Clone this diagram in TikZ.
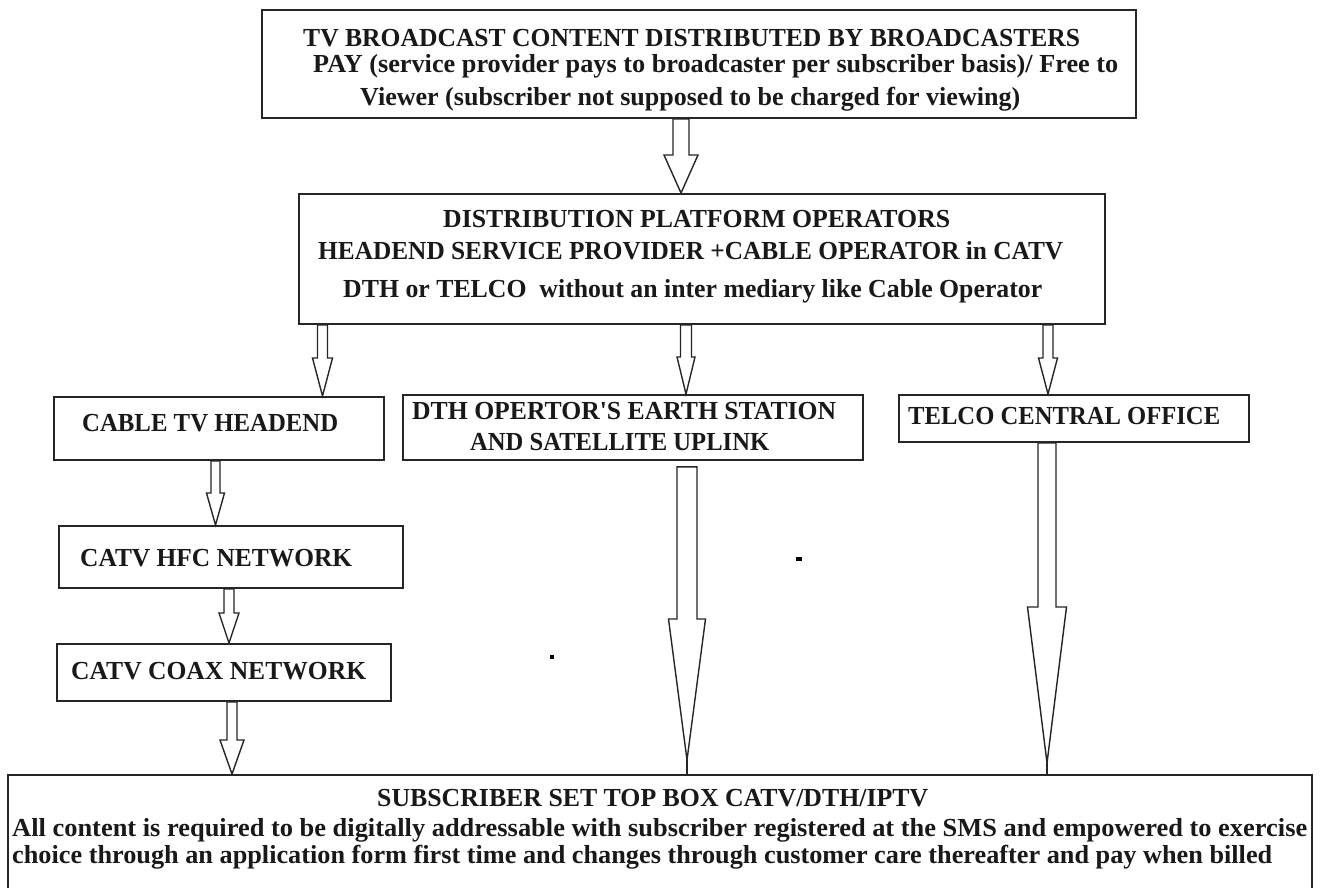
\documentclass[tikz,border=0pt]{standalone}
\usepackage{fontspec}
\setmainfont{Liberation Serif}[Ligatures=TeXOff]
\usepackage{graphicx}
\usetikzlibrary{calc}
\newcommand{\fitw}[2]{\resizebox{#1pt}{\height}{#2}}
\newcommand{\barrow}[5]{%
  \path[blk] let \p1=(#1), \p2=(#2) in
    (\x1-#3pt,\y1) -- (\x1-#3pt,\y2+#5pt) -- (\x1-#4pt,\y2+#5pt) -- (\x1,\y2)
    -- (\x1+#4pt,\y2+#5pt) -- (\x1+#3pt,\y2+#5pt) -- (\x1+#3pt,\y1) -- cycle;}
\tikzset{
  box/.style={draw=black!85, line width=1.8pt, rectangle, inner sep=0pt, anchor=north west, fill=white},
  txt/.style={inner sep=0pt, anchor=base west, font=\fontsize{26}{30}\selectfont\bfseries, text=black!90},
  blk/.style={draw=black!85, line width=1.4pt, fill=white, line join=miter},
  stem/.style={draw=black!85, line width=2pt}
}
\begin{document}
\begin{tikzpicture}[x=1pt,y=-1pt]
\useasboundingbox[fill=white] (0,0) rectangle (1327,887);
% boxes
\node[box, minimum width=874pt, minimum height=108pt] (top) at (261,9) {};
\node[box, minimum width=806pt, minimum height=130pt] (plat) at (298,193) {};
\node[box, minimum width=330pt, minimum height=63pt] (cable) at (53,396) {};
\node[box, minimum width=460pt, minimum height=65pt] (dth) at (402,394) {};
\node[box, minimum width=350pt, minimum height=47pt] (telco) at (898,394) {};
\node[box, minimum width=344pt, minimum height=62pt] (hfc) at (58,525) {};
\node[box, minimum width=334pt, minimum height=57pt] (coax) at (56,643) {};
\node[box, minimum width=1304pt, minimum height=140pt] (sub) at (7,774) {};
% texts
\node[txt] (t1) at (303,46) {\fitw{777}{TV BROADCAST CONTENT DISTRIBUTED BY BROADCASTERS}};
\node[txt] (t2) at (313,72) {\fitw{805}{PAY (service provider pays to broadcaster per subscriber basis)/ Free to}};
\node[txt] (t3) at (360,105) {\fitw{660}{Viewer (subscriber not supposed to be charged for viewing)}};
\node[txt] (s1) at (443,227) {\fitw{507}{DISTRIBUTION PLATFORM OPERATORS}};
\node[txt] (s2) at (318,259) {\fitw{745}{HEADEND SERVICE PROVIDER +CABLE OPERATOR in CATV}};
\node[txt] (s3) at (343,297) {\fitw{699}{DTH or TELCO\ \ without an inter mediary like Cable Operator}};
\node[txt] (c1) at (82,431) {\fitw{256}{CABLE TV HEADEND}};
\node[txt] (d1) at (412,419) {\fitw{424}{DTH OPERTOR'S EARTH STATION}};
\node[txt] (d2) at (470,450) {\fitw{299}{AND SATELLITE UPLINK}};
\node[txt] (e1) at (908,424) {\fitw{312}{TELCO CENTRAL OFFICE}};
\node[txt] (h1) at (80,566) {\fitw{272}{CATV HFC NETWORK}};
\node[txt] (x1) at (71,679) {\fitw{295}{CATV COAX NETWORK}};
\node[txt] (b1) at (377,806) {\fitw{551}{SUBSCRIBER SET TOP BOX CATV/DTH/IPTV}};
\node[txt] (b2) at (12,836) {\fitw{1295}{All content is required to be digitally addressable with subscriber registered at the SMS and empowered to exercise}};
\node[txt] (b3) at (12,863) {\fitw{1260}{choice through an application form first time and changes through customer care thereafter and pay when billed}};
% arrow axes
\coordinate (ax1) at (681,0);
\coordinate (ax2) at (322.5,0);
\coordinate (ax3) at (686,0);
\coordinate (ax4) at (1048,0);
\coordinate (ax5) at (215.5,0);
\coordinate (ax6) at (229,0);
\coordinate (ax7) at (232,0);
\coordinate (ax8) at (687,0);
\coordinate (ax9) at (1047,0);
% block arrows
\barrow{top.south -| ax1}{plat.north -| ax1}{8}{17}{38}
\barrow{plat.south -| ax2}{cable.north -| ax2}{5}{10}{38}
\barrow{plat.south -| ax3}{dth.north -| ax3}{5.5}{9}{37}
\barrow{plat.south -| ax4}{telco.north -| ax4}{5}{9.5}{36}
\barrow{cable.south -| ax5}{hfc.north -| ax5}{4.5}{9}{32}
\barrow{hfc.south -| ax6}{coax.north -| ax6}{5}{10}{30}
\barrow{coax.south -| ax7}{sub.north -| ax7}{5}{12}{34}
\coordinate (d8s) at ($(dth.south -| ax8)+(0,6)$);
\coordinate (d8t) at ($(sub.north -| ax8)+(0,-14)$);
\barrow{d8s}{d8t}{10}{18.5}{141}
\draw[stem, line width=2.8pt] (d8t) -- (sub.north -| ax8);
\coordinate (d9t) at ($(sub.north -| ax9)+(0,-11)$);
\barrow{telco.south -| ax9}{d9t}{9}{19.5}{156}
\draw[stem, line width=1.6pt] (d9t) -- (sub.north -| ax9);
% stray specks
\fill[black] (796,557) rectangle (802,561);
\fill[black] (550,655) rectangle (554,659);
\end{tikzpicture}
\end{document}
